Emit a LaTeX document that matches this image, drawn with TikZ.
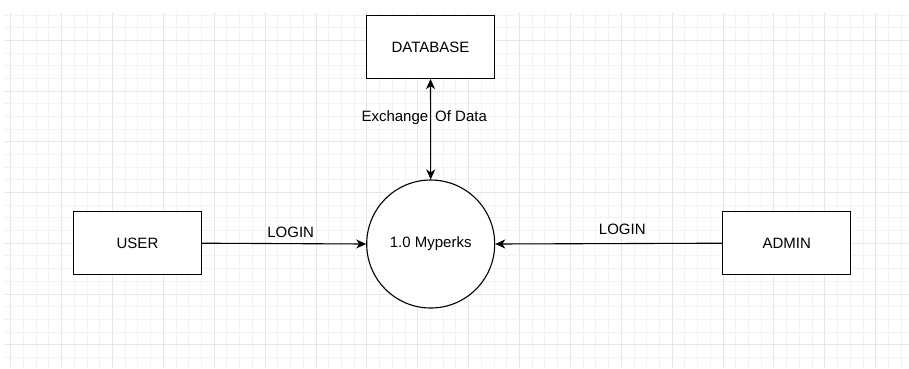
\documentclass[tikz,border=0pt]{standalone}
\usepackage{fontspec}
\setmainfont{Liberation Sans}
\usetikzlibrary{arrows.meta}
\definecolor{gridminor}{HTML}{F3F3F3}
\definecolor{gridmajor}{HTML}{E6E6E6}
\begin{document}
\begin{tikzpicture}[x=1pt,y=-1pt,
  font=\fontsize{15}{18}\selectfont,
  entity/.style={draw=black,line width=1.1pt,fill=white,minimum width=128pt,minimum height=63pt,inner sep=0pt},
  process/.style={draw=black,line width=1.1pt,fill=white,circle,minimum size=128pt,inner sep=0pt},
  flow/.style={draw=black,line width=1.1pt,-{Stealth[length=10pt,width=9pt,inset=3pt]}},
  biflow/.style={draw=black,line width=1.1pt,{Stealth[length=10pt,width=9pt,inset=3pt]}-{Stealth[length=10pt,width=9pt,inset=3pt]}},
  lbl/.style={inner sep=0pt,text=black}]
\useasboundingbox (0,0) rectangle (909,368);
\fill[white] (0,0) rectangle (909,368);
% grid
\foreach \k in {0,...,70}{
  \pgfmathsetmacro{\gx}{10.7+12.72*\k}
  \pgfmathtruncatemacro{\m}{mod(\k,4)}
  \ifnum\m=0
    \draw[gridmajor,line width=0.9pt] (\gx,12) -- (\gx,368);
  \else
    \draw[gridminor,line width=0.9pt] (\gx,12) -- (\gx,368);
  \fi
}
\foreach \k in {0,...,28}{
  \pgfmathsetmacro{\gy}{15.0+12.68*\k}
  \pgfmathtruncatemacro{\m}{mod(\k,4)}
  \ifnum\m=2
    \draw[gridmajor,line width=0.9pt] (4,\gy) -- (909,\gy);
  \else
    \draw[gridminor,line width=0.9pt] (4,\gy) -- (909,\gy);
  \fi
}
% nodes
\node[entity] (db) at (430.5,47) {DATABASE};
\node[entity] (user) at (137.5,243.2) {USER};
\node[entity] (admin) at (786.7,243.2) {ADMIN};
\node[process] (proc) at (430.7,244) {1.0 Myperks};
% connectors
\draw[biflow] (db.south) -- (proc.north);
\draw[flow] (user.east) -- (proc.west);
\draw[flow] (admin.west) -- (proc.east);
% labels
\node[lbl] (lx) at (424.2,118) {Exchange\hspace{7pt}Of Data};
\node[lbl] (l1) at (290.7,232.3) {LOGIN};
\node[lbl] (l2) at (622.3,229) {LOGIN};
\end{tikzpicture}
\end{document}
